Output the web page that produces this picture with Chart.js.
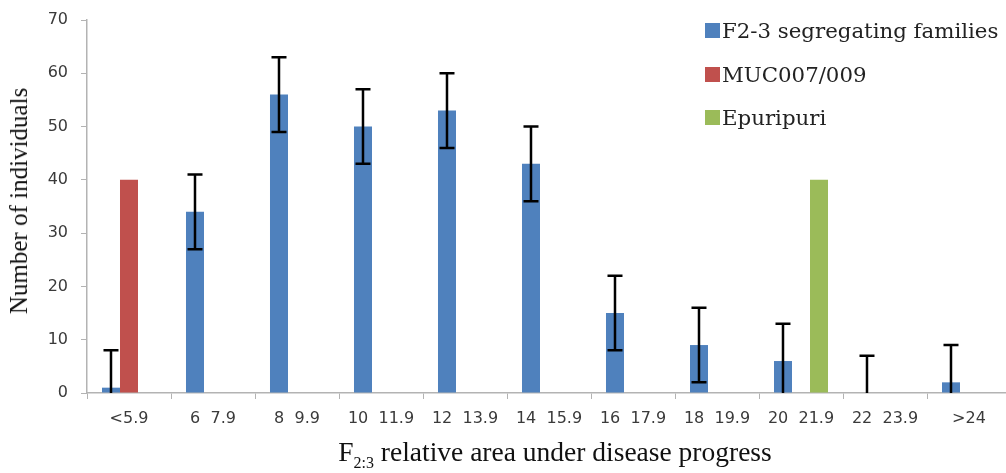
<!DOCTYPE html>
<html>
<head>
<meta charset="utf-8">
<script src="https://cdn.jsdelivr.net/npm/chart.js@4.4.1/dist/chart.umd.min.js"></script>
<style>
  body { margin: 0; background: #fff; overflow: hidden; }
  #wrap { position: relative; width: 1006px; height: 473px; overflow: hidden; }
  #legend { position: absolute; left: 705px; top: 16px; font-family: "DejaVu Serif", serif; font-size: 21.3px; color: #222; }
  #legend div { height: 43.5px; line-height: 30px; white-space: nowrap; }
  #legend span { display: inline-block; width: 15px; height: 15px; margin-right: 2px; vertical-align: 0px; }
  #xtitle { position: absolute; left: 0; width: 1110px; top: 436px; text-align: center; font-family: "Liberation Serif", serif; font-size: 27.5px; color: #111; }
  #xtitle sub { font-size: 16px; }
  #ytitle { position: absolute; left: 19px; top: 201px; transform: translate(-50%, -50%) rotate(-90deg); font-family: "Liberation Serif", serif; font-size: 25px; color: #111; white-space: nowrap; }
</style>
</head>
<body>
<div id="wrap">
  <canvas id="myChart" width="1011" height="473"></canvas>
  <div id="legend"></div>
  <div id="ytitle">Number of individuals</div>
  <div id="xtitle">F<sub>2:3</sub> relative area under disease progress</div>
</div>
<script>
const ctx = document.getElementById('myChart');

const labels = ['<5.9', '6  7.9', '8  9.9', '10  11.9', '12  13.9', '14  15.9', '16  17.9', '18  19.9', '20  21.9', '22  23.9', '>24'];
const families = [1, 34, 56, 50, 53, 43, 15, 9, 6, 0, 2];
const familiesErr = [7, 7, 7, 7, 7, 7, 7, 7, 7, 7, 7];
const muc = [40, null, null, null, null, null, null, null, null, null, null];
const epuripuri = [null, null, null, null, null, null, null, null, 40, null, null];
const yTicks = [0, 10, 20, 30, 40, 50, 60, 70];

const names = ['F2-3 segregating families', 'MUC007/009', 'Epuripuri'];
const colors = ['#4F81BD', '#C0504D', '#9BBB59'];

// error bars for the first dataset, clipped at zero
const errorBars = {
  id: 'errorBars',
  afterDatasetsDraw(chart) {
    const meta = chart.getDatasetMeta(0);
    const y = chart.scales.y;
    const c = chart.ctx;
    c.save();
    c.strokeStyle = '#000';
    c.lineWidth = 2.5;
    meta.data.forEach((bar, i) => {
      const v = families[i];
      const hi = v + familiesErr[i];
      const lo = v - familiesErr[i];
      const yHi = y.getPixelForValue(hi);
      const yLo = y.getPixelForValue(Math.max(lo, 0));
      c.beginPath();
      c.moveTo(bar.x, yHi);
      c.lineTo(bar.x, yLo);
      c.moveTo(bar.x - 7.5, yHi);
      c.lineTo(bar.x + 7.5, yHi);
      if (lo > 0) {
        c.moveTo(bar.x - 7.5, yLo);
        c.lineTo(bar.x + 7.5, yLo);
      }
      c.stroke();
    });
    c.restore();
  }
};

let myChart = new Chart(ctx, {
  type: 'bar',
  data: {
    labels: labels,
    datasets: [
      { label: names[0], data: families, backgroundColor: colors[0] },
      { label: names[1], data: muc, backgroundColor: colors[1] },
      { label: names[2], data: epuripuri, backgroundColor: colors[2] }
    ]
  },
  options: {
    responsive: false,
    animation: false,
    categoryPercentage: 0.643,
    barPercentage: 1.0,
    layout: { padding: { top: 20, right: 0, left: 0, bottom: 0 } },
    plugins: { legend: { display: false }, tooltip: { enabled: false } },
    scales: {
      x: {
        grid: { drawOnChartArea: false, color: '#B3B3B3', tickLength: 6, offset: true },
        border: { color: '#B3B3B3', width: 1.5 },
        ticks: { color: '#3a3a3a', font: { family: 'DejaVu Sans', size: 16 }, padding: 10, maxRotation: 0, autoSkip: false },
        afterFit(s) { s.height = 80; s.paddingLeft = 0; s.paddingRight = 0; }
      },
      y: {
        min: 0, max: 70,
        afterBuildTicks(s) { s.ticks = yTicks.map(v => ({ value: v })); },
        grid: { drawOnChartArea: false, color: '#B3B3B3', tickLength: 6 },
        border: { color: '#B3B3B3', width: 1.5 },
        ticks: { color: '#3a3a3a', font: { family: 'DejaVu Sans', size: 16 }, padding: 13 },
        afterFit(s) { s.width = 87; s.paddingTop = 0; s.paddingBottom = 0; }
      }
    }
  },
  plugins: [errorBars]
});

document.getElementById('legend').innerHTML = names.map((n, i) =>
  '<div><span style="background:' + colors[i] + '"></span>' + n + '</div>').join('');
</script>
</body>
</html>
